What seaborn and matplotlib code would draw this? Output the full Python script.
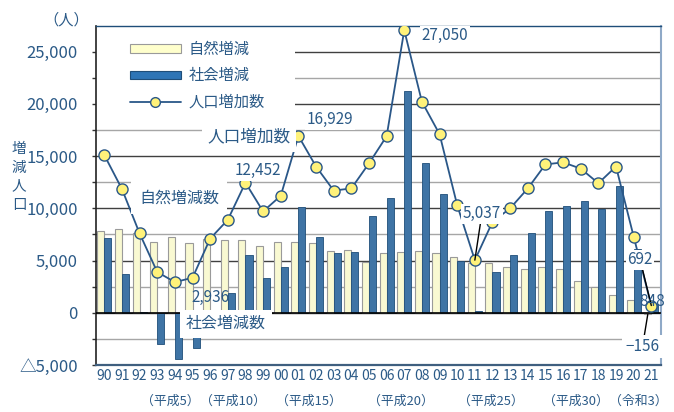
import numpy as np
import pandas as pd
import matplotlib
matplotlib.use("Agg")
import matplotlib.pyplot as plt
from matplotlib.patches import Patch, Rectangle
from matplotlib.lines import Line2D
import seaborn as sns

# データ（年、自然増減、社会増減、人口増加数）
years = ["90", "91", "92", "93", "94", "95", "96", "97", "98", "99",
         "00", "01", "02", "03", "04", "05", "06", "07", "08", "09",
         "10", "11", "12", "13", "14", "15", "16", "17", "18", "19",
         "20", "21"]
natural = [7800, 8000, 7600, 6800, 7300, 6700, 7100, 7000, 7000, 6400,
           6800, 6800, 6700, 5900, 6000, 4900, 5700, 5800, 5900, 5700,
           5300, 4800, 4800, 4400, 4200, 4400, 4200, 3000, 2500, 1700,
           1200, -156]
social = [7200, 3700, 30, -3000, -4400, -3400, -100, 1900, 5500, 3300,
          4400, 10100, 7300, 5700, 5800, 9300, 11000, 21200, 14300, 11400,
          5000, 200, 3900, 5500, 7600, 9700, 10200, 10700, 9900, 12100,
          6100, 848]
population = [15100, 11850, 7600, 3900, 2936, 3350, 7100, 8900, 12452, 9700,
              11200, 16929, 14000, 11700, 11900, 14300, 16900, 27050, 20200, 17100,
              10300, 5037, 8700, 10000, 11900, 14200, 14400, 13800, 12400, 14000,
              7300, 692]
era_labels = ["（平成5）", "（平成10）", "（平成15）", "（平成20）",
              "（平成25）", "（平成30）", "（令和3）"]
ytick_vals = [-5000, 0, 5000, 10000, 15000, 20000, 25000]
ytick_labels = ["△5,000", "0", "5,000", "10,000", "15,000", "20,000", "25,000"]

sns.set_theme(style="white")
plt.rcParams["font.family"] = ["Noto Sans CJK JP", "DejaVu Sans"]

txt_color = "#2b5a87"
line_color = "#2a5788"
cream = "#ffffcc"
blue = "#2e75b6"

df = pd.DataFrame({
    "year": years * 2,
    "kind": ["自然増減"] * len(years) + ["社会増減"] * len(years),
    "value": natural + social,
})

fig = plt.figure(figsize=(6.74, 4.12), dpi=100)
ax = fig.add_axes([96 / 674, 1 - 365 / 412, 565 / 674, 339.5 / 412])

# 目盛線
for v in np.arange(-2500, 27500, 2500):
    c = "#404040" if v % 5000 == 0 else "#a6a6a6"
    ax.axhline(v, color=c, lw=1.0, zorder=0.5)
ax.axhline(0, color="black", lw=1.2, zorder=2.6)

sns.barplot(data=df, x="year", y="value", hue="kind", order=years,
            hue_order=["自然増減", "社会増減"],
            palette={"自然増減": cream, "社会増減": blue},
            width=0.8, legend=False, ax=ax, zorder=2)
for bar in ax.containers[0]:
    bar.set_edgecolor("#9a9a9a")
    bar.set_linewidth(0.8)
for bar in ax.containers[1]:
    bar.set_edgecolor("#1f4e79")
    bar.set_linewidth(0.6)

n_lines = len(ax.lines)
sns.pointplot(x=years, y=population, order=years, color=line_color,
              errorbar=None, ax=ax)
for ln in ax.lines[n_lines:]:
    ln.set_linewidth(1.3)
    ln.set_marker("o")
    ln.set_markersize(8)
    ln.set_markerfacecolor("#fff27a")
    ln.set_markeredgecolor(line_color)
    ln.set_markeredgewidth(1.0)
    ln.set_zorder(3)

ax.set_xlim(-0.47, 31.55)
ax.set_ylim(-5000, 27500)

# 軸
ax.set_yticks(ytick_vals, labels=ytick_labels)
ax.set_yticks(np.arange(-2500, 27500, 5000), minor=True)
ax.tick_params(axis="y", which="both", direction="out", length=3, width=1,
               color="#333333", left=True, pad=10, labelsize=12,
               labelcolor=txt_color)
ax.tick_params(axis="x", length=0, pad=3, labelsize=10, labelcolor=txt_color)
ax.set_xlabel("")
ax.set_ylabel("")
ax.spines["left"].set_color("#222222")
ax.spines["left"].set_linewidth(1.2)
ax.spines["top"].set_color("#1f4e79")
ax.spines["top"].set_linewidth(1.0)
ax.spines["right"].set_color("#8fa9c7")
ax.spines["right"].set_linewidth(1.5)
ax.spines["bottom"].set_color("#3f5f7f")
ax.spines["bottom"].set_linewidth(1.6)

# 凡例の白地
ax.add_patch(Rectangle((0, 0.735), 0.352, 0.265, transform=ax.transAxes,
                       facecolor="white", edgecolor="none", zorder=1))
handles = [
    Patch(facecolor=cream, edgecolor="#9a9a9a", linewidth=0.8),
    Patch(facecolor=blue, edgecolor="#1f4e79", linewidth=0.8),
    Line2D([], [], color=line_color, lw=1.3, marker="o", markersize=7,
           markerfacecolor="#fff27a", markeredgecolor=line_color),
]
leg = ax.legend(handles, ["自然増減", "社会増減", "人口増加数"],
                loc="upper left", bbox_to_anchor=(0.035, 0.995),
                frameon=False, fontsize=11, handlelength=3.4,
                handleheight=0.45, labelspacing=0.6, handletextpad=0.45)
for t in leg.get_texts():
    t.set_color(txt_color)
leg.set_zorder(5)

box = dict(boxstyle="square,pad=0.35", facecolor="white", edgecolor="none")
small = dict(boxstyle="square,pad=0.1", facecolor="white", edgecolor="none")

ax.text(8.2, 16800, "人口増加数", fontsize=12, color=txt_color,
        ha="center", va="center", bbox=box, zorder=4)
ax.text(4.25, 11000, "自然増減数", fontsize=11.5, color=txt_color,
        ha="center", va="center", bbox=dict(boxstyle="square,pad=0.5",
                                            facecolor="white", edgecolor="none"),
        zorder=4)
ax.text(6.9, -1050, "社会増減数", fontsize=11.5, color=txt_color,
        ha="center", va="center", bbox=box, zorder=4)

ax.text(6.0, 1450, "2,936", fontsize=11, color=txt_color,
        ha="center", va="center", zorder=4)
ax.text(8.7, 13600, "12,452", fontsize=11, color=txt_color,
        ha="center", va="center", bbox=small, zorder=4)
ax.text(12.8, 18500, "16,929", fontsize=11, color=txt_color,
        ha="center", va="center", bbox=small, zorder=4)
ax.text(19.3, 26500, "27,050", fontsize=11, color=txt_color,
        ha="center", va="center", bbox=small, zorder=4)
ax.annotate("5,037", xy=(21, 5037), xytext=(21.4, 9500), fontsize=11,
            color=txt_color, ha="center", va="center", bbox=small, zorder=4,
            arrowprops=dict(arrowstyle="-", color="black", lw=1.0,
                            shrinkA=0, shrinkB=0))
ax.annotate("692", xy=(31, 692), xytext=(30.37, 5070), fontsize=11,
            color=txt_color, ha="center", va="center", bbox=small, zorder=4,
            arrowprops=dict(arrowstyle="-", color="black", lw=1.0,
                            shrinkA=0, shrinkB=0))
ax.text(31.05, 1050, "848", fontsize=11, color=txt_color,
        ha="center", va="center", zorder=4)
ax.annotate("−156", xy=(30.8, -156), xytext=(30.5, -3250), fontsize=11,
            color=txt_color, ha="center", va="center",
            bbox=dict(boxstyle="square,pad=0.2", facecolor="white",
                      edgecolor="none"),
            zorder=4, annotation_clip=False,
            arrowprops=dict(arrowstyle="-", color="black", lw=1.0,
                            shrinkA=0, shrinkB=0))

# 元号の注記
era_pos = [3.75, 7.3, 11.6, 16.8, 21.9, 26.75, 30.25]
for p, lab in zip(era_pos, era_labels):
    ax.text(p, -0.108, lab, transform=ax.get_xaxis_transform(), fontsize=9.3,
            color=txt_color, ha="center", va="center")

fig.text(66 / 674, 1 - 20 / 412, "（人）", fontsize=11, color=txt_color,
         ha="center", va="center")
fig.text(19 / 674, 1 - 177 / 412, "増\n減\n人\n口", fontsize=10.5,
         color=txt_color, ha="center", va="center", linespacing=1.45)

fig.savefig("out.png", dpi=100)
